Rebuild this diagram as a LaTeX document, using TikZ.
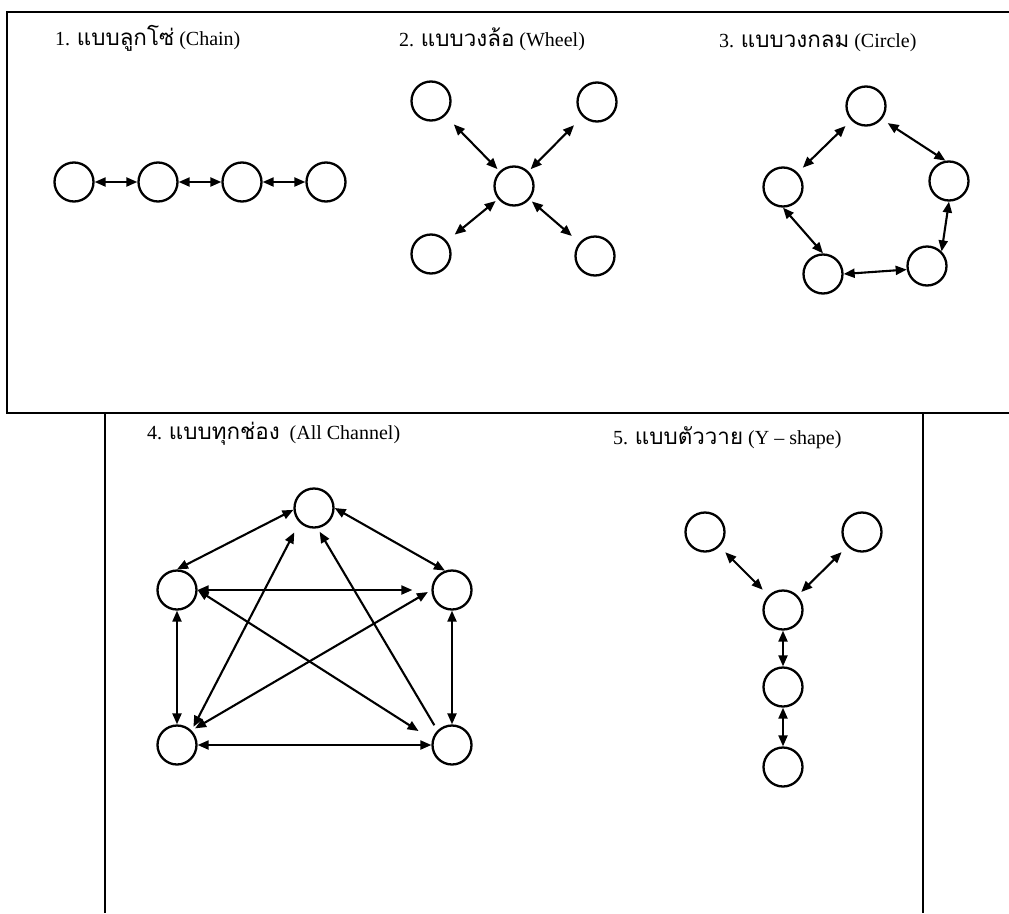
\documentclass[tikz,border=0pt]{standalone}
\usepackage{fontspec}
\usepackage{tikz}
\usetikzlibrary{arrows.meta}
\setmainfont{Liberation Serif}
\newfontfamily\thaifont[Script=Thai, Scale=1.12]{Loma}

\tikzset{
  pt/.style={circle, draw, line width=2.3pt, minimum size=39pt, inner sep=0pt},
  link/.style={{Triangle[length=11pt,width=9pt]}-{Triangle[length=11pt,width=9pt]}, line width=2.1pt},
  onelink/.style={-{Triangle[length=11pt,width=9pt]}, line width=2.1pt},
  frame/.style={line width=2.2pt},
  title/.style={anchor=base west, inner sep=0pt, font=\fontsize{20}{22}\selectfont}
}

\begin{document}
\begin{tikzpicture}[x=1pt, y=-1pt]
\useasboundingbox (0,0) rectangle (1009,913);

% frames
\draw[frame] (1009,12) -- (7,12) -- (7,413) -- (1009,413);
\draw[frame] (105,913) -- (105,413);
\draw[frame] (923,413) -- (923,913);

% titles
\node[title] (t1) at (55,45) {1. {\thaifont แบบลูกโซ่} (Chain)};
\node[title] (t2) at (399,46) {2. {\thaifont แบบวงล้อ} (Wheel)};
\node[title] (t3) at (719,47) {3. {\thaifont แบบวงกลม} (Circle)};
\node[title] (t4) at (147,439) {4. {\thaifont แบบทุกช่อง}\ \ (All Channel)};
\node[title] (t5) at (613,444) {5. {\thaifont แบบตัววาย} (Y -- shape)};

% 1. chain
\node[pt] (c1) at (74,182) {};
\node[pt] (c2) at (158,182) {};
\node[pt] (c3) at (242,182) {};
\node[pt] (c4) at (326,182) {};
\draw[link] (c1) -- (c2);
\draw[link] (c2) -- (c3);
\draw[link] (c3) -- (c4);

% 2. wheel
\node[pt] (wc) at (514,186) {};
\node[pt] (wtl) at (431,101) {};
\node[pt] (wtr) at (597,102) {};
\node[pt] (wbl) at (431,254) {};
\node[pt] (wbr) at (595,256) {};
\draw[link, shorten <=12pt, shorten >=3pt] (wtl) -- (wc);
\draw[link, shorten <=12pt, shorten >=3pt] (wtr) -- (wc);
\draw[link, shorten <=10pt, shorten >=3pt] (wbl) -- (wc);
\draw[link, shorten <=10pt, shorten >=3pt] (wbr) -- (wc);

% 3. circle
\node[pt] (ct) at (866,106) {};
\node[pt] (cl) at (783,187) {};
\node[pt] (cr) at (949,181) {};
\node[pt] (cbl) at (823,274) {};
\node[pt] (cbr) at (927,266) {};
\draw[link, shorten <=8pt, shorten >=7pt] (ct) -- (cl);
\draw[link, shorten <=7pt] (ct.-40) -- (cr.100);
\draw[link] (cr.south) -- (cbr.north east);
\draw[link] (cbl.east) -- (cbr.190);
\draw[link] (cl.south) -- (cbl.north);

% 4. all channel
\node[pt] (at) at (314,508) {};
\node[pt] (al) at (177,590) {};
\node[pt] (ar) at (452,590) {};
\node[pt] (abl) at (177,745) {};
\node[pt] (abr) at (452,745) {};
\draw[link] (at.185) -- (al.north);
\draw[link] (at.east) -- (ar.110);
\draw[link, shorten >=19pt] (al.east) -- (ar.west);
\draw[link] (al.south) -- (abl.north);
\draw[link] (ar.south) -- (abr.north);
\draw[link] (abl.east) -- (abr.west);
\draw[link, shorten <=4pt, shorten >=11pt] (abl.north east) -- (at.south west);
\draw[link, shorten <=4pt, shorten >=4pt] (abl.north east) -- (ar.west);
\draw[link, shorten >=16pt] (al.east) -- (abr.165);
\draw[onelink, shorten <=6pt, shorten >=4pt] (abr.north west) -- (at.280);

% 5. y-shape
\node[pt] (ytl) at (705,532) {};
\node[pt] (ytr) at (862,532) {};
\node[pt] (yc) at (783,610) {};
\node[pt] (ym) at (783,687) {};
\node[pt] (yb) at (783,767) {};
\draw[link, shorten <=8pt, shorten >=8pt] (ytl) -- (yc);
\draw[link, shorten <=8pt, shorten >=5pt] (ytr) -- (yc);
\draw[link] (yc) -- (ym);
\draw[link] (ym) -- (yb);
\end{tikzpicture}
\end{document}
